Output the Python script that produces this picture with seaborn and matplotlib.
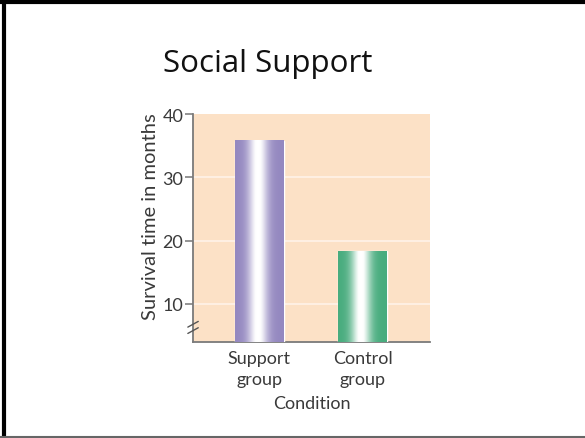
import numpy as np
import pandas as pd
import matplotlib
matplotlib.use("Agg")
import matplotlib.pyplot as plt
import matplotlib.colors as mcolors
from matplotlib.lines import Line2D
import seaborn as sns

# Survival data
conditions = ["Support\ngroup", "Control\ngroup"]
survival_months = [35.8, 18.3]
y_ticks = [10, 20, 30, 40]

df = pd.DataFrame({"Condition": conditions, "Survival": survival_months})

sns.set_theme(style="white")
plt.rcParams["font.family"] = ["Lato", "DejaVu Sans"]

fig = plt.figure(figsize=(5.85, 4.39), dpi=100)
ax = fig.add_axes([0.330, 0.2187, 0.405, 0.5193])

bg = "#FCE1C6"
ax.set_facecolor(bg)

bar_edges = ["#9488C0", "#48AC7E"]
sns.barplot(data=df, x="Condition", y="Survival", hue="Condition",
            palette=bar_edges, width=0.47, ax=ax, legend=False,
            saturation=1, zorder=3)

y_min, y_max = 4, 40
ax.set_ylim(y_min, y_max)
ax.set_xlim(-0.64, 1.65)

# soft white grid lines behind the bars
for v in y_ticks[:-1]:
    ax.axhline(v, color="#FFF3E8", lw=1.2, zorder=1)

# cylindrical shading on each bar
t = np.linspace(0, 1, 256)
for patch, edge in zip(ax.patches, bar_edges):
    x0, y0 = patch.get_x(), patch.get_y()
    w, h = patch.get_width(), patch.get_height()
    base = np.array(mcolors.to_rgb(edge))
    f = np.exp(-((t - 0.47) / 0.2) ** 2)
    f = np.clip(f * 1.05, 0, 1)
    rgb = base[None, :] * (1 - f[:, None]) + np.ones(3)[None, :] * f[:, None]
    img = np.tile(rgb[None, :, :], (2, 1, 1))
    bottom = max(y0, y_min)
    ax.imshow(img, extent=[x0, x0 + w, bottom, y0 + h], aspect="auto",
              origin="lower", zorder=4, interpolation="bilinear")

ax.set_ylim(y_min, y_max)
ax.set_xlim(-0.64, 1.65)

ax.set_yticks(y_ticks)
ax.set_yticklabels([str(v) for v in y_ticks])
text_c = "#3A3A3A"
ax.tick_params(axis="y", left=True, length=6, width=1.1, color="#777777",
               labelsize=13, labelcolor=text_c, pad=1)
ax.tick_params(axis="x", bottom=False, labelsize=13, labelcolor=text_c, pad=0)
for lbl in ax.get_xticklabels():
    lbl.set_linespacing(1.35)

for s in ["top", "right"]:
    ax.spines[s].set_visible(False)
for s in ["left", "bottom"]:
    ax.spines[s].set_color("#7A7A7A")
    ax.spines[s].set_linewidth(1.3)

ax.set_ylabel("Survival time in months", fontsize=14.5, color=text_c)
ax.yaxis.set_label_coords(-0.145, 0.555)
ax.set_xlabel("Condition", fontsize=13, color=text_c, labelpad=6)

# axis break mark
for dy in (-0.5, 0.5):
    ax.plot([-0.022, 0.022], [6.3 + dy - 0.45, 6.3 + dy + 0.45],
            transform=ax.get_yaxis_transform(), color="#555555", lw=1.0,
            clip_on=False, zorder=6)

fig.text(0.279, 0.855, "Social Support", fontsize=22.5, color="#111111",
         family=["Open Sans", "DejaVu Sans"], va="center", ha="left")

# slide frame
fig.add_artist(Line2D([0.006, 0.006], [0, 0.995], color="black", lw=3,
                      transform=fig.transFigure))
fig.add_artist(Line2D([0, 1], [0.993, 0.993], color="black", lw=3,
                      transform=fig.transFigure))
fig.add_artist(Line2D([0, 1], [0.002, 0.002], color="#666666", lw=1.5,
                      transform=fig.transFigure))

fig.savefig("out.png", dpi=100, facecolor="white")
